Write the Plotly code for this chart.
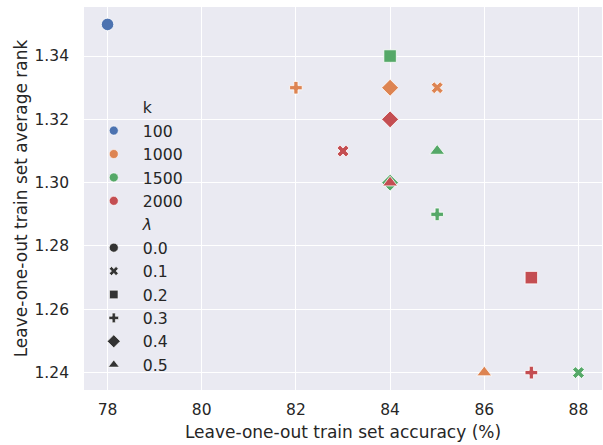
import plotly.graph_objects as go

# Leave-one-out results for each (k, lambda) configuration
k_values = [100, 1000, 1000, 1000, 1000, 1500, 1500, 1500, 1500, 1500, 2000, 2000, 2000, 2000, 2000]
lambdas = ["0.0", "0.3", "0.4", "0.1", "0.5", "0.2", "0.5", "0.4", "0.3", "0.1", "0.4", "0.1", "0.5", "0.2", "0.3"]
accuracy = [78, 82, 84, 85, 86, 84, 85, 84, 85, 88, 84, 83, 84, 87, 87]
avg_rank = [1.35, 1.33, 1.33, 1.33, 1.24, 1.34, 1.31, 1.30, 1.29, 1.24, 1.32, 1.31, 1.30, 1.27, 1.24]

k_levels = [100, 1000, 1500, 2000]
lambda_levels = ["0.0", "0.1", "0.2", "0.3", "0.4", "0.5"]

k_colors = {100: "#4C72B0", 1000: "#DD8452", 1500: "#55A868", 2000: "#C44E52"}
lambda_symbols = {"0.0": "circle", "0.1": "x", "0.2": "square",
                  "0.3": "cross", "0.4": "diamond", "0.5": "triangle-up"}
# per-symbol sizes so the shapes have similar visual weight
symbol_sizes = {"circle": 12.5, "x": 10.5, "square": 12.5, "cross": 10.5,
                "diamond": 13, "triangle-up": 13}
legend_sizes = {"circle": 9, "x": 8, "square": 8.5, "cross": 8,
                "diamond": 10, "triangle-up": 9.5}

FONT = "DejaVu Sans"
TEXT = "#262626"

fig = go.Figure()

for k in k_levels:
    idx = [i for i, kv in enumerate(k_values) if kv == k]
    syms = [lambda_symbols[lambdas[i]] for i in idx]
    fig.add_trace(go.Scatter(
        x=[accuracy[i] for i in idx],
        y=[avg_rank[i] for i in idx],
        mode="markers",
        marker=dict(color=k_colors[k], symbol=syms, opacity=1,
                    size=[symbol_sizes[s] for s in syms],
                    line=dict(color="white", width=0.8)),
        showlegend=False,
        hoverinfo="x+y",
    ))

# legend entries: hue section, then style section
def header(name):
    fig.add_trace(go.Scatter(x=[None], y=[None], mode="markers", name=name,
                             marker=dict(size=0, opacity=0, color="rgba(0,0,0,0)",
                                         line=dict(width=0)),
                             showlegend=True))

header("k")
for k in k_levels:
    fig.add_trace(go.Scatter(x=[None], y=[None], mode="markers", name=str(k),
                             marker=dict(color=k_colors[k], symbol="circle",
                                         size=legend_sizes["circle"], opacity=1,
                                         line=dict(color="white", width=0.6))))
header("<i>λ</i>")
for lam in lambda_levels:
    s = lambda_symbols[lam]
    fig.add_trace(go.Scatter(x=[None], y=[None], mode="markers", name=lam,
                             marker=dict(color="#333333", symbol=s, size=legend_sizes[s],
                                         opacity=1,
                                         line=dict(color="white", width=0.6))))

fig.update_layout(
    width=603, height=445,
    margin=dict(l=84, r=1, t=7, b=55),
    paper_bgcolor="white",
    plot_bgcolor="#EAEAF2",
    font=dict(family=FONT, size=15.5, color=TEXT),
    legend=dict(x=0.0015, y=0.782, xanchor="left", yanchor="top",
                bgcolor="rgba(0,0,0,0)", font=dict(size=15.7, color=TEXT),
                itemsizing="trace", itemwidth=48, traceorder="normal"),
    xaxis=dict(range=[77.5, 88.5], tickvals=[78, 80, 82, 84, 86, 88],
               showgrid=True, gridcolor="white", gridwidth=1.2, zeroline=False,
               showline=False, ticks="", ticklabelstandoff=8,
               title=dict(text="Leave-one-out train set accuracy (%)", standoff=8,
                          font=dict(size=17))),
    yaxis=dict(range=[1.2345, 1.3555], tickvals=[1.24, 1.26, 1.28, 1.30, 1.32, 1.34],
               tickformat=".2f",
               showgrid=True, gridcolor="white", gridwidth=1.2, zeroline=False,
               showline=False, ticks="", ticklabelstandoff=14,
               title=dict(text="Leave-one-out train set average rank", standoff=2,
                          font=dict(size=17))),
)

fig.write_html("out.html")
